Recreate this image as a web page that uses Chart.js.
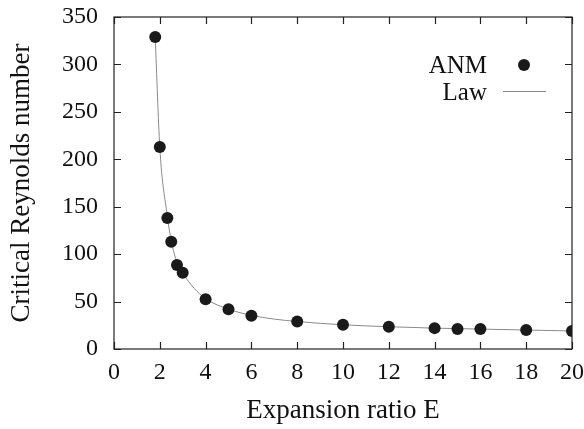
<!DOCTYPE html>
<html>
<head>
<meta charset="utf-8">
<script src="https://cdn.jsdelivr.net/npm/chart.js@4.4.1/dist/chart.umd.min.js"></script>
<style>
  html, body { margin: 0; padding: 0; background: #fff; }
  #wrap { width: 584px; height: 429px; }
</style>
</head>
<body>
<div id="wrap"><canvas id="chart" width="584" height="429"></canvas></div>
<script>
// ANM points (expansion ratio E, critical Re)
const anmE  = [1.8, 2, 2.33, 2.5, 2.75, 3, 4, 5, 6, 8, 10, 12, 14, 15, 16, 18, 20];
const anmRe = [329, 213, 138, 113, 88.5, 80.5, 52.5, 42, 35, 29, 25.5, 23.5, 22, 21, 21, 20, 19];

// Law curve
const lawE  = [1.8, 2, 2.33, 2.5, 2.75, 3, 3.5, 4, 5, 6, 7, 8, 10, 12, 14, 16, 18, 20];
const lawRe = [329, 213, 140, 114, 91, 80, 64, 53, 42, 35.5, 31.5, 29, 25.5, 23.5, 22, 21, 20, 19];

const xTicks = [0, 2, 4, 6, 8, 10, 12, 14, 16, 18, 20];
const yTicks = [0, 50, 100, 150, 200, 250, 300, 350];

const serif = "'Liberation Serif', 'Times New Roman', serif";
const ink = "#222";

const toPts = (xs, ys) => xs.map((x, i) => ({ x, y: ys[i] }));

// gnuplot-like frame with inward ticks and a key in the top right
const framePlugin = {
  id: "frame",
  beforeDatasetsDraw(chart) {
    const { ctx, chartArea: a, scales: { x, y } } = chart;
    const len = 7;
    ctx.save();
    ctx.strokeStyle = ink;
    ctx.lineWidth = 1.2;
    ctx.strokeRect(a.left, a.top, a.right - a.left, a.bottom - a.top);
    ctx.beginPath();
    xTicks.forEach(v => {
      const px = Math.round(x.getPixelForValue(v)) + 0.5;
      ctx.moveTo(px, a.bottom); ctx.lineTo(px, a.bottom - len);
      ctx.moveTo(px, a.top);    ctx.lineTo(px, a.top + len);
    });
    yTicks.forEach(v => {
      const py = Math.round(y.getPixelForValue(v)) + 0.5;
      ctx.moveTo(a.left, py);  ctx.lineTo(a.left + len, py);
      ctx.moveTo(a.right, py); ctx.lineTo(a.right - len, py);
    });
    ctx.stroke();
    ctx.restore();
  },
  afterDraw(chart) {
    const { ctx } = chart;
    const ds = chart.data.datasets;
    ctx.save();
    ctx.font = "25px " + serif;
    ctx.fillStyle = "#111";
    ctx.textAlign = "right";
    ctx.textBaseline = "middle";
    // ANM
    ctx.fillText(ds[0].label, 487, 66);
    ctx.beginPath();
    ctx.arc(524, 65, 6, 0, Math.PI * 2);
    ctx.fillStyle = ds[0].backgroundColor;
    ctx.fill();
    // Law
    ctx.fillStyle = "#111";
    ctx.fillText(ds[1].label, 487, 93);
    ctx.beginPath();
    ctx.moveTo(503, 91.5); ctx.lineTo(546, 91.5);
    ctx.strokeStyle = ds[1].borderColor;
    ctx.lineWidth = 1;
    ctx.stroke();
    ctx.restore();
  }
};

new Chart(document.getElementById("chart"), {
  type: "scatter",
  data: {
    datasets: [
      {
        label: "ANM",
        data: toPts(anmE, anmRe),
        backgroundColor: "#1a1a1a",
        borderWidth: 0,
        pointRadius: 6,
        pointHoverRadius: 6
      },
      {
        label: "Law",
        data: toPts(lawE, lawRe),
        showLine: true,
        borderColor: "#8a8a8a",
        borderWidth: 1,
        pointRadius: 0,
        cubicInterpolationMode: "monotone"
      }
    ]
  },
  options: {
    responsive: false,
    animation: false,
    events: [],
    layout: { padding: { top: 17, right: 12, left: 0, bottom: 0 } },
    plugins: { legend: { display: false }, tooltip: { enabled: false } },
    scales: {
      x: {
        type: "linear",
        min: 0, max: 20,
        afterBuildTicks: s => { s.ticks = xTicks.map(v => ({ value: v })); },
        afterFit: s => { s.height = 80; s.paddingLeft = 0; s.paddingRight = 0; },
        grid: { display: false, drawTicks: false },
        border: { display: false },
        ticks: { color: "#111", padding: 9, font: { family: serif, size: 24 } },
        title: {
          display: true, text: "Expansion ratio E", color: "#111",
          font: { family: serif, size: 27 }, padding: { top: 0, bottom: 2 }
        }
      },
      y: {
        type: "linear",
        min: 0, max: 350,
        afterBuildTicks: s => { s.ticks = yTicks.map(v => ({ value: v })); },
        afterFit: s => { s.width = 114; s.paddingTop = 0; s.paddingBottom = 0; },
        grid: { display: false, drawTicks: false },
        border: { display: false },
        ticks: { color: "#111", padding: 16, font: { family: serif, size: 24 } },
        title: {
          display: true, text: "Critical Reynolds number", color: "#111",
          font: { family: serif, size: 27 }, padding: { top: 6, bottom: 0 }
        }
      }
    }
  },
  plugins: [framePlugin]
});
</script>
</body>
</html>
